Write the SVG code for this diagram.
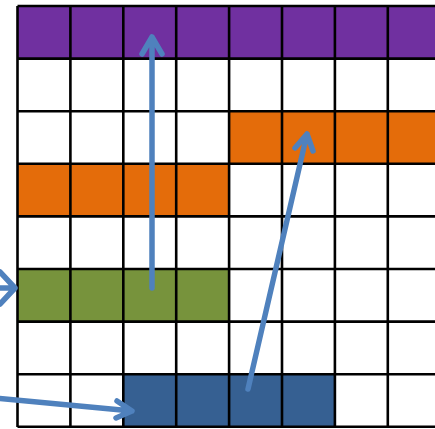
<svg xmlns="http://www.w3.org/2000/svg" width="435" height="429" viewBox="0 0 435 429">
<style>
.w{fill:#ffffff}
.p{fill:#7030A0}
.o{fill:#E46C0A}
.g{fill:#77933C}
.b{fill:#366092}
.gl{stroke:#000;stroke-width:2.6;fill:none}
.ar{stroke:#4F81BD;stroke-width:5.5;fill:none;stroke-linecap:round;stroke-linejoin:round}
</style>
<rect width="435" height="429" fill="#fff"/>
<g id="fills">
<rect id="row0" class="p" x="17.5" y="6" width="423" height="52.6"/>
<rect id="row2" class="o" x="229.1" y="111.2" width="211" height="52.6"/>
<rect id="row3" class="o" x="17.5" y="163.8" width="211.6" height="52.6"/>
<rect id="row5" class="g" x="17.5" y="269" width="211.6" height="52.6"/>
<rect id="row7" class="b" x="123.3" y="374.2" width="211.6" height="52.6"/>
</g>
<g id="grid" class="gl">
<path d="M17.5 6V427M70.4 6V427M123.3 6V427M176.2 6V427M229.1 6V427M282 6V427M334.9 6V427M387.8 6V427"/>
<path d="M17.5 6H440M17.5 58.6H440M17.5 111.2H440M17.5 163.8H440M17.5 216.4H440M17.5 269H440M17.5 321.6H440M17.5 374.2H440M17.5 426.8H440"/>
</g>
<g id="connectors" class="ar">
<path d="M152 288V37M142 54L152 37L162 54"/>
<path d="M248 389L307 134M295 148L307 134L313 151"/>
<path d="M-5 288L15 288M0 272L15 288L0 304"/>
<path d="M-5 398L132 411M117 401L132 411L116 418"/>
</g>
</svg>
